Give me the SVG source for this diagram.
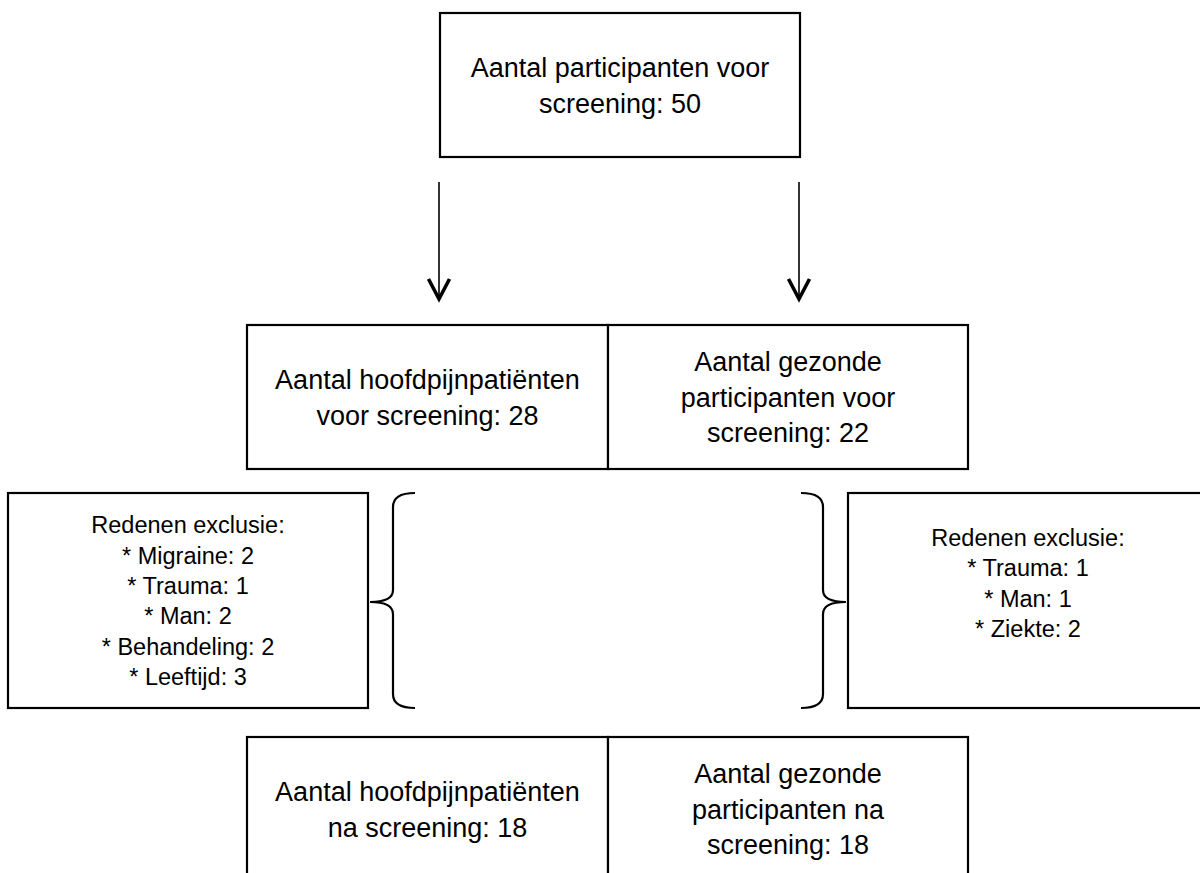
<svg xmlns="http://www.w3.org/2000/svg" width="1200" height="873" viewBox="0 0 1200 873">
<defs>
<style>
.box{fill:#fff;stroke:#000;stroke-width:2.2}
.t{font-family:"Liberation Sans",Arial,sans-serif;font-size:27px;fill:#000;text-anchor:middle}
.s{font-family:"Liberation Sans",Arial,sans-serif;font-size:23.5px;fill:#000;text-anchor:middle}
.ln{fill:none;stroke:#000;stroke-width:1.6}
.head{fill:none;stroke:#000;stroke-width:3.6;stroke-linejoin:miter}
.brace{fill:none;stroke:#000;stroke-width:2.2}
</style>
</defs>
<rect width="1200" height="873" fill="#fff"/>
<g id="top">
<rect class="box" x="440" y="13" width="360" height="144"/>
<text class="t" x="620" y="77">Aantal participanten voor</text>
<text class="t" x="620" y="112.5">screening: 50</text>
</g>
<g id="connectors">
<line class="ln" x1="439" y1="182" x2="439" y2="298"/>
<path class="head" d="M428.5 279 L439 299 L449.5 279"/>
<line class="ln" x1="799" y1="182" x2="799" y2="298"/>
<path class="head" d="M788.5 279 L799 299 L809.5 279"/>
<path class="brace" d="M415 493 Q393 493 393 507 L393 590 Q393 602 370 602 Q393 602 393 614 L393 694 Q393 708 415 708"/>
<path class="brace" d="M801 493 Q823 493 823 507 L823 590 Q823 602 846 602 Q823 602 823 614 L823 694 Q823 708 801 708"/>
</g>
<g id="mid-left">
<rect class="box" x="247" y="325" width="361" height="144"/>
<text class="t" x="427.5" y="389">Aantal hoofdpijnpatiënten</text>
<text class="t" x="427.5" y="424.5">voor screening: 28</text>
</g>
<g id="mid-right">
<rect class="box" x="608" y="325" width="360" height="144"/>
<text class="t" x="788" y="371">Aantal gezonde</text>
<text class="t" x="788" y="406.5">participanten voor</text>
<text class="t" x="788" y="442">screening: 22</text>
</g>
<g id="excl-left">
<rect class="box" x="8" y="493" width="360" height="215"/>
<text class="s" x="188" y="533">Redenen exclusie:</text>
<text class="s" x="188" y="563.5">* Migraine: 2</text>
<text class="s" x="188" y="594">* Trauma: 1</text>
<text class="s" x="188" y="624">* Man: 2</text>
<text class="s" x="188" y="654.5">* Behandeling: 2</text>
<text class="s" x="188" y="684.5">* Leeftijd: 3</text>
</g>
<g id="excl-right">
<rect class="box" x="848" y="493" width="360" height="215"/>
<text class="s" x="1028" y="545.5">Redenen exclusie:</text>
<text class="s" x="1028" y="576">* Trauma: 1</text>
<text class="s" x="1028" y="606.5">* Man: 1</text>
<text class="s" x="1028" y="637">* Ziekte: 2</text>
</g>
<g id="bottom-left">
<rect class="box" x="247" y="737" width="361" height="144"/>
<text class="t" x="427.5" y="801">Aantal hoofdpijnpatiënten</text>
<text class="t" x="427.5" y="836.5">na screening: 18</text>
</g>
<g id="bottom-right">
<rect class="box" x="608" y="737" width="360" height="144"/>
<text class="t" x="788" y="783">Aantal gezonde</text>
<text class="t" x="788" y="818.5">participanten na</text>
<text class="t" x="788" y="854">screening: 18</text>
</g>
</svg>
